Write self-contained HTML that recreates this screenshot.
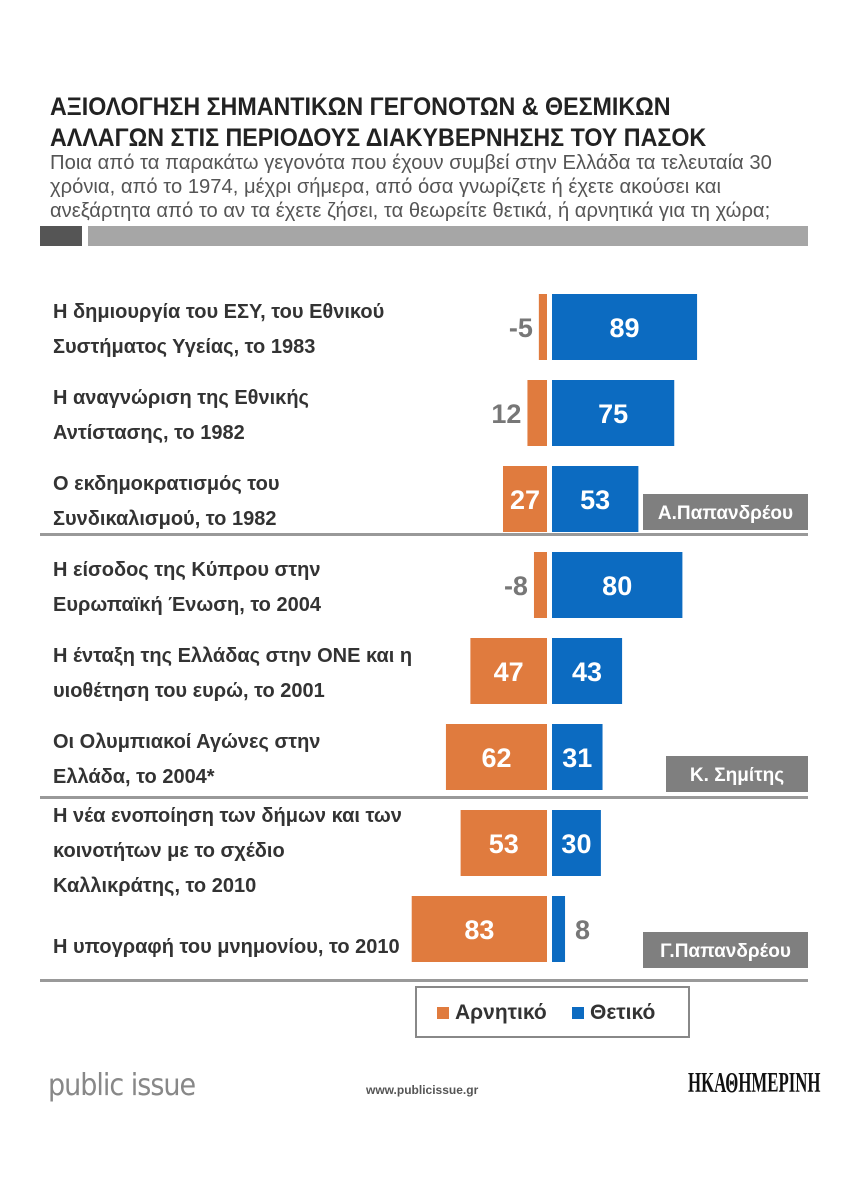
<!DOCTYPE html>
<html><head><meta charset="utf-8"><style>
body{margin:0;background:#fff;font-family:"Liberation Sans","DejaVu Sans",sans-serif;}
#wrap{position:relative;width:848px;height:1200px;overflow:hidden;}
.t{position:absolute;color:#333;}
</style></head><body><div id="wrap">
<div class="t" style="left:50px;top:92px;font-size:25px;line-height:31px;color:#222;font-weight:bold;white-space:nowrap;transform:scaleX(0.93);transform-origin:left;">ΑΞΙΟΛΟΓΗΣΗ ΣΗΜΑΝΤΙΚΩΝ ΓΕΓΟΝΟΤΩΝ &amp; ΘΕΣΜΙΚΩΝ<br>ΑΛΛΑΓΩΝ ΣΤΙΣ ΠΕΡΙΟΔΟΥΣ ΔΙΑΚΥΒΕΡΝΗΣΗΣ ΤΟΥ ΠΑΣΟΚ</div>
<div class="t" style="left:50px;top:151px;font-size:20px;line-height:24px;color:#555;white-space:nowrap;transform:scaleX(1.01);transform-origin:left;">Ποια από τα παρακάτω γεγονότα που έχουν συμβεί στην Ελλάδα τα τελευταία 30<br>χρόνια, από το 1974, μέχρι σήμερα, από όσα γνωρίζετε ή έχετε ακούσει και<br>ανεξάρτητα από το αν τα έχετε ζήσει, τα θεωρείτε θετικά, ή αρνητικά για τη χώρα;</div>
<div style="position:absolute;left:40px;top:226px;width:42px;height:20px;background:#555;"></div>
<div style="position:absolute;left:88px;top:226px;width:720px;height:20px;background:#a6a6a6;"></div>
<svg id="chart" width="848" height="1200" style="position:absolute;left:0;top:0;"></svg>
<div style="position:absolute;left:415px;top:986px;width:275px;height:52px;border:2px solid #888;box-sizing:border-box;font-size:21px;color:#333;font-weight:bold;">
<span style="position:absolute;left:20px;top:13px;"><span style="display:inline-block;width:12px;height:12px;background:#e07b3e;margin-right:6px;"></span>Αρνητικό</span>
<span style="position:absolute;left:155px;top:13px;"><span style="display:inline-block;width:12px;height:12px;background:#0c6bc1;margin-right:6px;"></span>Θετικό</span>
</div>
<div class="t" style="left:48px;top:1068px;font-size:30px;color:#888;font-family:'DejaVu Sans Condensed','DejaVu Sans',sans-serif;letter-spacing:-1px;">public issue</div>
<div class="t" style="left:366px;top:1083px;font-size:12px;color:#555;font-weight:bold;">www.publicissue.gr</div>
<div class="t" style="left:688px;top:1068px;font-size:28px;color:#111;font-family:'Liberation Serif',serif;font-weight:bold;transform:scaleX(0.6);transform-origin:left;white-space:nowrap;">ΗΚΑΘΗΜΕΡΙΝΗ</div>
</div>
<script>
const labels=[["Η δημιουργία του ΕΣΥ, του Εθνικού","Συστήματος Υγείας, το 1983"],["Η αναγνώριση της Εθνικής","Αντίστασης, το 1982"],["Ο εκδημοκρατισμός του","Συνδικαλισμού, το 1982"],["Η είσοδος της Κύπρου στην","Ευρωπαϊκή Ένωση, το 2004"],["Η ένταξη της Ελλάδας στην ΟΝΕ και η","υιοθέτηση του ευρώ, το 2001"],["Οι Ολυμπιακοί Αγώνες στην","Ελλάδα, το 2004*"],["Η νέα ενοποίηση των δήμων και των","κοινοτήτων με το σχέδιο","Καλλικράτης, το 2010"],["Η υπογραφή του μνημονίου, το 2010"]];
const negative=[5,12,27,8,47,62,53,83];
const negativeLabels=["-5","12","27","-8","47","62","53","83"];
const positive=[89,75,53,80,43,31,30,8];
const groups=["Α.Παπανδρέου","Κ. Σημίτης","Γ.Παπανδρέου"];
const NS="http://www.w3.org/2000/svg";
const svg=document.getElementById('chart');
const k=1.63, cL=547, cR=552;
function xNeg(v){return cL-v*k;}
function xPos(v){return cR+v*k;}
function rowY(i){return 294+i*86;}
function mk(t,a){const e=document.createElementNS(NS,t);for(const x in a)e.setAttribute(x,a[x]);svg.appendChild(e);return e;}
for(let i=0;i<labels.length;i++){
 const y=rowY(i),h=66;
 const r1=mk('rect',{x:xNeg(negative[i]),y:y,width:cL-xNeg(negative[i]),height:h,fill:'#e07b3e'});
 
 
 const r2=mk('rect',{x:cR,y:y,width:xPos(positive[i])-cR,height:h,fill:'#0c6bc1'});
 
 
 const nIn=negative[i]>=20;
 const t1=mk('text',{x:nIn?(xNeg(negative[i])+cL)/2:xNeg(negative[i])-6,y:y+h/2+10,'text-anchor':nIn?'middle':'end','font-size':27,'font-weight':'bold',fill:nIn?'#fff':'#777'});
 t1.textContent=negativeLabels[i];
 
 
 const pIn=positive[i]>=20;
 const t2=mk('text',{x:pIn?(xPos(positive[i])+cR)/2:xPos(positive[i])+10,y:y+h/2+10,'text-anchor':pIn?'middle':'start','font-size':27,'font-weight':'bold',fill:pIn?'#fff':'#777'});
 t2.textContent=positive[i];
 
 
 const L=labels[i];
 const baseY=L.length==1?y+50:(L.length==3?y+5:y+17);
 L.forEach((s,j)=>{const tl=mk('text',{x:53,y:baseY+j*35+7,'font-size':20,'font-weight':'bold',fill:'#333'});tl.textContent=s;
 
 });
}
[533,796,979].forEach(y=>{const l=mk('rect',{x:40,y:y,width:768,height:3,fill:'#999'});
 
 });
const tags=[[643,494],[666,756],[643,932]];
groups.forEach((g,i)=>{const [x,y]=tags[i];
 const r=mk('rect',{x:x,y:y,width:808-x,height:36,fill:'#7f7f7f'});
 
 
 const t=mk('text',{x:(x+808)/2,y:y+25,'text-anchor':'middle','font-size':19,'font-weight':'bold',fill:'#fff'});
 t.textContent=g;
 
 });
</script></body></html>
